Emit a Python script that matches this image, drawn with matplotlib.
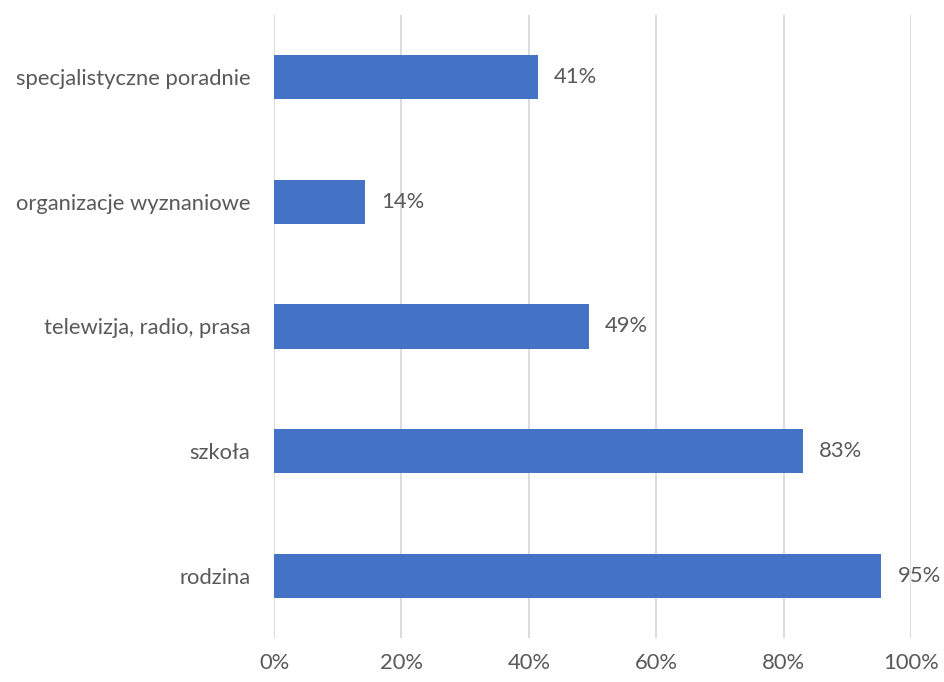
import matplotlib
matplotlib.use("Agg")
import matplotlib.pyplot as plt
from matplotlib.ticker import FuncFormatter

categories = ["rodzina", "szkoła", "telewizja, radio, prasa", "organizacje wyznaniowe", "specjalistyczne poradnie"]
values = [95.3, 83.0, 49.4, 14.3, 41.4]
xticks = [0, 20, 40, 60, 80, 100]

plt.rcParams['font.family'] = ['Lato', 'DejaVu Sans']
txt = '#595959'
fs = 15.8

fig = plt.figure(figsize=(9.45, 6.82), dpi=100)
ax = fig.add_axes([274/945, 1-638/682, (911-274)/945, (638-15)/682])

ypos = list(range(len(categories)))
ax.barh(ypos, values, height=0.355, color='#4472C4', zorder=3)
for y, v in zip(ypos, values):
    ax.text(v + 2.6, y, f"{round(v):.0f}%", va='center', ha='left', fontsize=fs, color=txt)

ax.set_xlim(0, 100)
ax.set_ylim(-0.5, len(categories) - 0.5)
ax.set_xticks(xticks)
ax.xaxis.set_major_formatter(FuncFormatter(lambda x, p: f"{x:.0f}%"))
ax.set_yticks(ypos)
ax.set_yticklabels(categories)
ax.grid(axis='x', color='#D9D9D9', linewidth=1.3, zorder=0)
for s in ax.spines.values():
    s.set_visible(False)
ax.tick_params(axis='both', length=0, labelsize=fs, labelcolor=txt)
ax.tick_params(axis='x', pad=11)
ax.tick_params(axis='y', pad=17)

fig.savefig("out.png", dpi=100, facecolor='white')
